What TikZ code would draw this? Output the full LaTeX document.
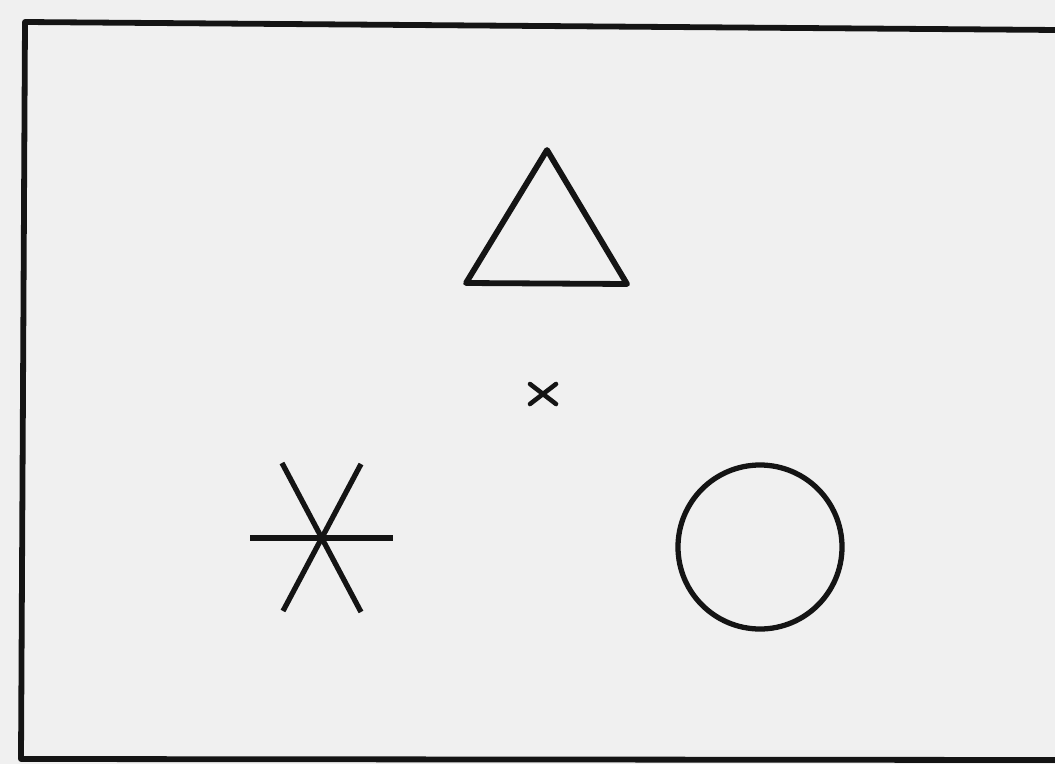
\documentclass[tikz,border=0pt]{standalone}
\usetikzlibrary{calc}
\begin{document}
\begin{tikzpicture}[x=0.02cm,y=-0.02cm,
  ink/.style={draw=black!92, line join=round, line cap=round},
  framestroke/.style={ink, line width=3.3pt},
  shapestroke/.style={ink, line width=3pt}]
\useasboundingbox (0,0) rectangle (1055,764);
\fill[black!6] (0,0) rectangle (1055,764);
% frame (open at the right edge)
\coordinate (ftr) at (1058,30);
\coordinate (ftl) at (25,22);
\coordinate (fbl) at (21,759);
\coordinate (fbr) at (1058,760);
\draw[framestroke, line cap=butt] (ftr) -- (ftl) -- (fbl) -- (fbr);
% triangle
\coordinate (tA) at (547,150);
\coordinate (tL) at (466,283);
\coordinate (tR) at (627,284);
\draw[shapestroke, line width=3.3pt] (tA) -- (tL) -- (tR) -- cycle;
% small cross
\coordinate (xc) at (543,394);
\draw[shapestroke, line width=2.6pt] ($(xc)+(-13,-10)$) -- ($(xc)+(13,10)$);
\draw[shapestroke, line width=2.6pt] ($(xc)+(-13,10)$) -- ($(xc)+(13,-10)$);
% asterisk
\coordinate (ac) at (322,538);
\coordinate (aW) at (250,538);
\coordinate (aE) at (393,538);
\coordinate (aNW) at (282,463);
\coordinate (aNE) at (361,464);
\coordinate (aSW) at (283,611);
\coordinate (aSE) at (361,612);
\draw[shapestroke, line cap=butt] (aW) -- (aE);
\draw[shapestroke, line cap=butt] (aNW) -- (aSE);
\draw[shapestroke, line cap=butt] (aNE) -- (aSW);
% circle
\coordinate (cc) at (760,547);
\draw[shapestroke] (cc) circle [radius=82];
\end{tikzpicture}
\end{document}
